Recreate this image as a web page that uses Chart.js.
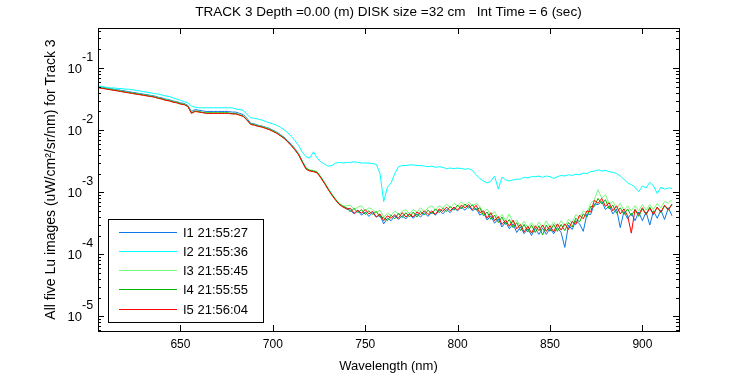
<!DOCTYPE html>
<html>
<head>
<meta charset="utf-8">
<script src="https://cdn.jsdelivr.net/npm/chart.js@4/dist/chart.umd.min.js"></script>
<style>
html,body{margin:0;padding:0;background:#fff;}
#wrap{width:750px;height:375px;}
</style>
</head>
<body>
<div id="wrap"><canvas id="c" width="750" height="375"></canvas></div>
<script>
const titleText = "TRACK 3 Depth =0.00 (m) DISK size =32 cm   Int Time = 6 (sec)";
const xTitle = "Wavelength (nm)";
const yTitle = "All five Lu images (uW/cm\u00B2/sr/nm) for Track 3";
const seriesNames = ["I1 21:55:27","I2 21:55:36","I3 21:55:45","I4 21:55:55","I5 21:56:04"];
const xTicks = [650,700,750,800,850,900];
const yDecades = [-1,-2,-3,-4,-5];

const wavelengths = [606,608,610,612,614,616,618,620,622,624,626,628,630,632,634,636,638,640,642,644,646,648,650,652,654,656,658,660,662,664,666,668,670,672,674,676,678,680,682,684,686,688,690,692,694,696,698,700,702,704,706,708,710,712,714,716,718,720,722,724,726,728,730,732,734,736,738,740,742,744,746,748,750,752,754,756,758,760,762,764,766,768,770,772,774,776,778,780,782,784,786,788,790,792,794,796,798,800,802,804,806,808,810,812,814,816,818,820,822,824,826,828,830,832,834,836,838,840,842,844,846,848,850,852,854,856,858,860,862,864,866,868,870,872,874,876,878,880,882,884,886,888,890,892,894,896,898,900,902,904,906,908,910,912,914,916];

const i1 = [0.050,0.049,0.0478,0.0467,0.0457,0.0447,0.0437,0.0427,0.0417,0.0407,0.0398,0.0389,0.0380,0.0372,0.0363,0.0355,0.0339,0.0331,0.0316,0.0309,0.0295,0.0288,0.0275,0.0269,0.0251,0.0200,0.0214,0.0209,0.0204,0.0200,0.0200,0.0200,0.0200,0.0200,0.0200,0.0200,0.0195,0.0195,0.0186,0.0178,0.0155,0.0129,0.0126,0.0120,0.0117,0.0112,0.0107,0.0100,0.00933,0.00851,0.00776,0.00676,0.00589,0.00501,0.00417,0.00316,0.00245,0.00224,0.00219,0.00209,0.00174,0.00141,0.00112,0.000912,0.000759,0.000646,0.000589,
5.37e-4,5.13e-4,4.47e-4,5.01e-4,4.27e-4,4.79e-4,4.07e-4,4.68e-4,3.98e-4,4.27e-4,3.09e-4,3.80e-4,3.47e-4,4.17e-4,3.63e-4,4.17e-4,3.72e-4,4.37e-4,3.80e-4,4.47e-4,3.98e-4,4.68e-4,4.07e-4,4.79e-4,4.27e-4,5.13e-4,4.47e-4,5.25e-4,4.68e-4,5.62e-4,5.01e-4,5.75e-4,5.13e-4,6.03e-4,5.01e-4,5.50e-4,4.27e-4,4.68e-4,3.55e-4,4.17e-4,3.16e-4,3.72e-4,2.75e-4,3.31e-4,2.57e-4,3.09e-4,2.24e-4,2.75e-4,2.14e-4,2.57e-4,2.00e-4,2.63e-4,2.09e-4,2.63e-4,2.09e-4,2.63e-4,2.14e-4,2.69e-4,2.24e-4,1.29e-4,2.95e-4,2.51e-4,3.47e-4,3.09e-4,2.34e-4,4.47e-4,4.37e-4,6.46e-4,6.31e-4,7.08e-4,5.25e-4,6.03e-4,4.47e-4,5.37e-4,2.69e-4,4.90e-4,3.72e-4,4.57e-4,3.47e-4,4.79e-4,3.47e-4,4.79e-4,2.95e-4,5.01e-4,3.80e-4,5.13e-4,3.63e-4,5.62e-4,4.17e-4];

const i2 = [0.0513,0.0501,0.0490,0.0479,0.0479,0.0468,0.0468,0.0457,0.0457,0.0447,0.0437,0.0427,0.0417,0.0407,0.0398,0.0389,0.0380,0.0367,0.0355,0.0347,0.0331,0.0316,0.0302,0.0288,0.0275,0.0245,0.0234,0.0229,0.0229,0.0229,0.0229,0.0229,0.0229,0.0229,0.0229,0.0229,0.0229,0.0219,0.0214,0.0209,0.0178,0.0158,0.0155,0.0151,0.0145,0.0138,0.0132,0.0126,0.0120,0.0112,0.0102,0.00912,0.00794,0.00676,0.00562,0.00437,0.00372,0.00355,0.00447,0.00355,0.00309,0.00282,0.00263,0.00269,0.00295,0.00302,0.00295,0.00302,0.00302,0.00309,0.00302,0.00295,0.00295,0.00295,0.00288,0.00282,0.00200,0.000708,0.00120,0.00141,0.00200,0.00257,0.00269,0.00269,0.00275,0.00275,0.00269,0.00269,0.00263,0.00257,0.00263,0.00251,0.00257,0.00251,0.00240,0.00245,0.00240,0.00245,0.00240,0.00234,0.00240,0.00224,0.00191,0.00166,0.00151,0.00141,0.00151,0.00182,0.00112,0.00174,0.00158,0.00151,0.00158,0.00162,0.00162,0.00174,0.00170,0.00178,0.00178,0.00182,0.00174,0.00182,0.00178,0.00166,0.00178,0.00186,0.00182,0.00191,0.00186,0.00195,0.00191,0.00204,0.00200,0.00214,0.00219,0.00229,0.00219,0.00224,0.00214,0.00209,0.00200,0.00182,0.00162,0.00141,0.00132,0.00120,0.00102,0.00126,0.00117,0.00145,0.00126,0.000955,0.00120,0.00112,0.00117,0.00115];

const i3 = [0.0488,0.0477,0.0466,0.0456,0.0446,0.0436,0.0425,0.0415,0.0406,0.0397,0.0388,0.0380,0.0371,0.0363,0.0355,0.0347,0.0331,0.0323,0.0309,0.0302,0.0288,0.0282,0.0269,0.0263,0.0246,0.0191,0.0205,0.0200,0.0195,0.0191,0.0191,0.0191,0.0191,0.0191,0.0191,0.0191,0.0186,0.0186,0.0178,0.0170,0.0148,0.0126,0.0123,0.0118,0.0115,0.0110,0.0105,0.00977,0.00912,0.00832,0.00759,0.00661,0.00575,0.00490,0.00407,0.00316,0.00245,0.00229,0.00224,0.00214,0.00178,0.00145,0.00115,0.000933,0.000776,0.000661,0.000603,
6.03e-4,6.17e-4,5.25e-4,5.75e-4,6.03e-4,5.01e-4,5.62e-4,5.25e-4,4.68e-4,5.13e-4,3.98e-4,4.57e-4,4.27e-4,5.01e-4,4.37e-4,4.90e-4,5.25e-4,4.47e-4,5.25e-4,4.79e-4,5.62e-4,4.79e-4,5.62e-4,6.03e-4,5.13e-4,6.03e-4,5.50e-4,6.46e-4,5.62e-4,6.61e-4,6.03e-4,6.92e-4,6.17e-4,6.92e-4,6.03e-4,6.61e-4,5.89e-4,4.68e-4,5.37e-4,4.27e-4,4.90e-4,3.72e-4,4.37e-4,3.47e-4,4.47e-4,3.16e-4,3.55e-4,2.75e-4,3.39e-4,2.69e-4,3.24e-4,2.63e-4,3.31e-4,2.69e-4,3.47e-4,2.69e-4,3.31e-4,2.75e-4,3.47e-4,2.82e-4,3.63e-4,3.24e-4,4.37e-4,3.89e-4,5.01e-4,4.68e-4,6.61e-4,7.59e-4,1.10e-3,7.94e-4,9.12e-4,6.46e-4,7.08e-4,5.50e-4,6.61e-4,5.13e-4,6.03e-4,5.01e-4,6.03e-4,5.01e-4,6.31e-4,5.13e-4,6.31e-4,5.25e-4,6.61e-4,5.62e-4,7.08e-4,6.61e-4,7.59e-4];

const i4 = [0.0485,0.0474,0.0463,0.0452,0.0442,0.0432,0.0422,0.0412,0.0403,0.0394,0.0385,0.0376,0.0368,0.0359,0.0351,0.0343,0.0328,0.0320,0.0306,0.0299,0.0285,0.0279,0.0266,0.0260,0.0243,0.0188,0.0203,0.0198,0.0193,0.0189,0.0189,0.0189,0.0189,0.0189,0.0189,0.0189,0.0184,0.0184,0.0176,0.0168,0.0147,0.0125,0.0122,0.0116,0.0113,0.0108,0.0103,0.00966,0.00902,0.00822,0.00750,0.00653,0.00568,0.00484,0.00402,0.00309,0.00240,0.00224,0.00219,0.00209,0.00174,0.00141,0.00112,0.000912,0.000759,0.000646,0.000589,
5.62e-4,4.79e-4,5.50e-4,4.68e-4,5.25e-4,4.37e-4,5.01e-4,4.37e-4,4.90e-4,3.98e-4,3.89e-4,3.47e-4,4.27e-4,3.72e-4,4.57e-4,3.89e-4,4.68e-4,3.98e-4,4.79e-4,3.98e-4,4.90e-4,4.27e-4,5.13e-4,4.47e-4,5.37e-4,4.68e-4,5.50e-4,4.90e-4,5.89e-4,5.13e-4,6.17e-4,5.37e-4,6.46e-4,5.50e-4,6.31e-4,5.13e-4,5.62e-4,4.17e-4,4.79e-4,3.63e-4,4.27e-4,3.24e-4,3.98e-4,3.02e-4,3.63e-4,2.69e-4,3.24e-4,2.40e-4,3.02e-4,2.29e-4,2.95e-4,2.24e-4,2.88e-4,2.04e-4,2.95e-4,2.34e-4,3.02e-4,2.34e-4,3.02e-4,2.40e-4,3.24e-4,2.75e-4,3.80e-4,3.31e-4,4.47e-4,3.98e-4,5.89e-4,5.89e-4,7.94e-4,6.46e-4,7.59e-4,5.37e-4,6.17e-4,4.57e-4,5.62e-4,4.37e-4,5.37e-4,4.17e-4,5.25e-4,4.07e-4,5.37e-4,4.37e-4,5.75e-4,4.47e-4,5.75e-4,4.68e-4,6.03e-4,5.13e-4,6.46e-4];

const i5 = [0.0479,0.0468,0.0457,0.0447,0.0437,0.0427,0.0417,0.0407,0.0398,0.0389,0.0380,0.0372,0.0363,0.0355,0.0347,0.0339,0.0324,0.0316,0.0302,0.0295,0.0282,0.0275,0.0263,0.0257,0.0240,0.0186,0.0200,0.0195,0.0191,0.0186,0.0186,0.0186,0.0186,0.0186,0.0186,0.0186,0.0182,0.0182,0.0174,0.0166,0.0145,0.0123,0.0120,0.0115,0.0112,0.0107,0.0102,0.00955,0.00891,0.00813,0.00741,0.00646,0.00562,0.00479,0.00398,0.00302,0.00234,0.00219,0.00214,0.00204,0.00170,0.00138,0.00110,0.000891,0.000741,0.000631,0.000575,
5.37e-4,5.50e-4,4.57e-4,5.13e-4,4.57e-4,5.25e-4,4.47e-4,4.90e-4,3.98e-4,4.47e-4,3.47e-4,4.17e-4,3.80e-4,4.37e-4,3.80e-4,4.68e-4,3.98e-4,4.47e-4,3.98e-4,4.79e-4,4.37e-4,5.01e-4,4.37e-4,5.01e-4,4.37e-4,5.37e-4,4.90e-4,5.75e-4,5.01e-4,5.75e-4,5.13e-4,6.17e-4,5.62e-4,6.31e-4,5.25e-4,6.17e-4,4.68e-4,5.01e-4,3.80e-4,4.68e-4,3.47e-4,4.07e-4,3.02e-4,3.55e-4,2.82e-4,3.55e-4,2.57e-4,3.02e-4,2.29e-4,2.82e-4,2.19e-4,2.88e-4,2.40e-4,2.95e-4,2.34e-4,2.88e-4,2.29e-4,3.09e-4,2.45e-4,3.09e-4,2.51e-4,3.39e-4,3.02e-4,4.27e-4,3.72e-4,5.01e-4,4.79e-4,7.41e-4,6.61e-4,7.94e-4,5.89e-4,6.76e-4,5.01e-4,6.03e-4,4.47e-4,5.37e-4,4.17e-4,2.19e-4,5.25e-4,4.37e-4,5.62e-4,4.37e-4,5.50e-4,4.37e-4,5.75e-4,4.79e-4,6.17e-4,5.25e-4,6.31e-4];

const seriesValues = [i1,i2,i3,i4,i5];
const seriesColors = ["#0a78e6","#00ffff","#78f878","#00b400","#ff0000"];

const FONT = "'Liberation Sans', Arial, sans-serif";

const axesPlugin = {
  id: 'matlabAxes',
  afterDraw(chart){
    const ctx = chart.ctx;
    const xs = chart.scales.x, ys = chart.scales.y;
    const L = Math.round(chart.chartArea.left), R = Math.round(chart.chartArea.right);
    const T = Math.round(chart.chartArea.top), B = Math.round(chart.chartArea.bottom);
    ctx.save();
    ctx.strokeStyle = '#000';
    ctx.lineWidth = 1;
    ctx.strokeRect(L+0.5, T+0.5, R-L, B-T);
    ctx.beginPath();
    xTicks.forEach(v=>{
      const px = Math.round(xs.getPixelForValue(v))+0.5;
      ctx.moveTo(px,B); ctx.lineTo(px,B-6);
      ctx.moveTo(px,T); ctx.lineTo(px,T+6);
    });
    for(let k=-6;k<=0;k++){
      for(let m=1;m<=9;m++){
        const v = m*Math.pow(10,k);
        if(v<ys.min||v>ys.max) continue;
        const py = Math.round(ys.getPixelForValue(v))+0.5;
        const len = m===1?6:3;
        ctx.moveTo(L,py); ctx.lineTo(L+len,py);
        ctx.moveTo(R,py); ctx.lineTo(R-len,py);
      }
    }
    ctx.stroke();
    ctx.fillStyle = '#000';
    ctx.font = "12px "+FONT;
    ctx.textAlign = 'center'; ctx.textBaseline = 'middle';
    xTicks.forEach(v=>{
      ctx.fillText(String(v), xs.getPixelForValue(v), B+14);
    });
    ctx.font = "13px "+FONT;
    ctx.fillText(xTitle, (L+R)/2, B+35);
    yDecades.forEach(k=>{
      const py = ys.getPixelForValue(Math.pow(10,k));
      ctx.font = "13px "+FONT;
      ctx.textAlign='right'; ctx.textBaseline='middle';
      ctx.fillText("10", 82, py+1);
      ctx.font = "12.5px "+FONT;
      ctx.textAlign='left';
      ctx.fillText(String(k), 82, py-11);
    });
    ctx.save();
    ctx.translate(51, (T+B)/2);
    ctx.rotate(-Math.PI/2);
    ctx.font = "14px "+FONT;
    ctx.textAlign='center'; ctx.textBaseline='middle';
    ctx.fillText(yTitle, 0, 0);
    ctx.restore();
    ctx.font = "13.5px "+FONT;
    ctx.textAlign='center'; ctx.textBaseline='middle';
    ctx.fillText(titleText, (L+R)/2, 12);
    const lx = 108, ly = 219, lw = 155, lh = 103;
    ctx.fillStyle='#fff';
    ctx.fillRect(lx, ly, lw, lh);
    ctx.strokeStyle='#000';
    ctx.strokeRect(lx+0.5, ly+0.5, lw, lh);
    const rowY = [232,251,270,289,309];
    seriesNames.forEach((name,i)=>{
      ctx.strokeStyle = seriesColors[i];
      ctx.beginPath();
      ctx.moveTo(119, rowY[i]+0.5); ctx.lineTo(177, rowY[i]+0.5);
      ctx.stroke();
      ctx.fillStyle='#000';
      ctx.font = "13px "+FONT;
      ctx.textAlign='left'; ctx.textBaseline='middle';
      ctx.fillText(name, 183, rowY[i]+1);
    });
    ctx.restore();
  }
};

const datasets = seriesValues.map((vals,i)=>({
  label: seriesNames[i],
  data: wavelengths.map((w,j)=>({x:w, y:vals[j]})),
  borderColor: seriesColors[i],
  backgroundColor: seriesColors[i],
  borderWidth: 1,
  pointRadius: 0,
  tension: 0,
  fill: false,
  order: 5-i
}));

new Chart(document.getElementById('c'), {
  type: 'line',
  data: { datasets },
  options: {
    responsive: false,
    animation: false,
    events: [],
    layout: { padding: { left: 98, top: 28, right: 71, bottom: 44 } },
    plugins: { legend: { display: false }, title: { display: false }, tooltip: { enabled: false } },
    scales: {
      x: { type: 'linear', min: 605.4, max: 919.8, display: false },
      y: { type: 'logarithmic', min: 5.8e-6, max: 0.442, display: false }
    }
  },
  plugins: [axesPlugin]
});
</script>
</body>
</html>
